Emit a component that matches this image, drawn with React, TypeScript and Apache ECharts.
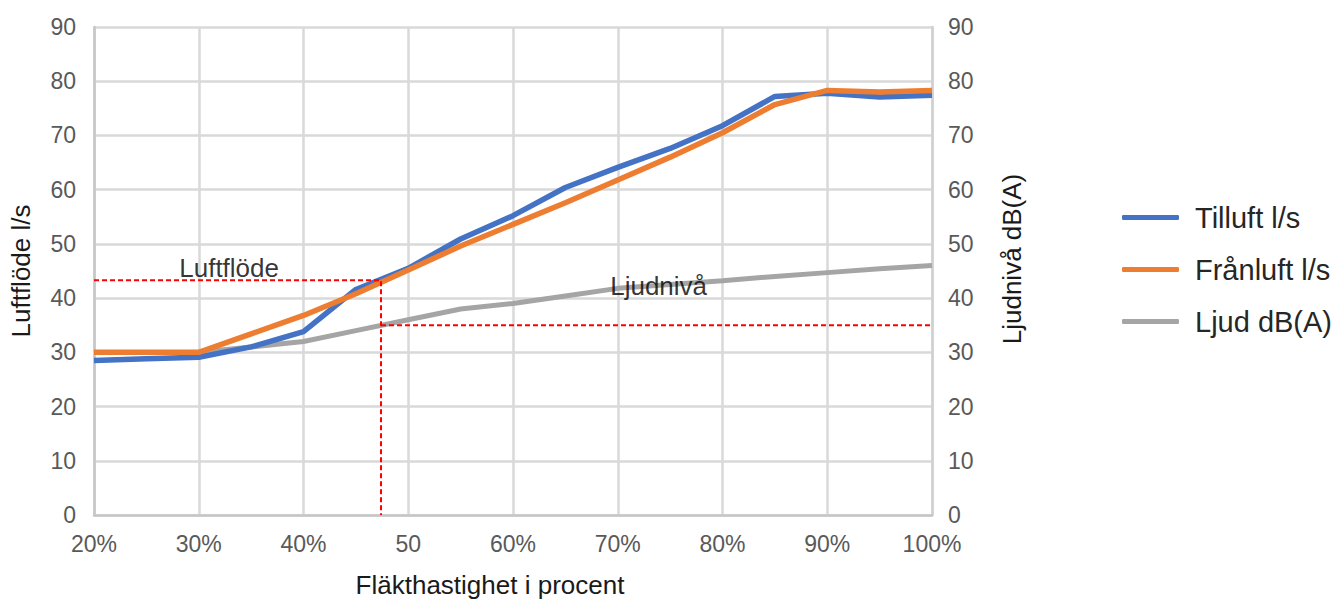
import React, { useEffect, useRef } from "react";
import * as echarts from "echarts";

const xValues = [20, 25, 30, 35, 40, 45, 50, 55, 60, 65, 70, 75, 80, 85, 90, 95, 100];
const tilluft = [28.5, 28.8, 29.1, 31.0, 33.8, 41.6, 45.5, 50.9, 55.2, 60.4, 64.1, 67.6, 71.8, 77.2, 77.8, 77.1, 77.4];
const franluft = [30.0, 30.0, 30.0, 33.4, 36.8, 40.8, 45.2, 49.6, 53.6, 57.6, 61.8, 66.0, 70.5, 75.7, 78.3, 78.0, 78.3];
const ljud = [null, null, 30.0, 31.0, 32.0, 34.0, 36.0, 38.0, 39.0, 40.4, 41.8, 42.5, 43.2, 44.0, 44.7, 45.4, 46.0];
const xTickValues = [20, 30, 40, 50, 60, 70, 80, 90, 100];
const xTickLabels = ["20%", "30%", "40%", "50", "60%", "70%", "80%", "90%", "100%"];
const seriesNames = ["Tilluft l/s", "Frånluft l/s", "Ljud dB(A)"];
const seriesColors = ["#4472C4", "#ED7D31", "#A5A5A5"];

// Reference guide (red dashed) lines
const luftGuide = [[20, 43.3], [47.4, 43.3], [47.4, 0]];
const ljudGuide = [[47.4, 35], [100, 35]];
const annotations = [
  { name: "Luftflöde", value: [32.9, 45.6] },
  { name: "Ljudnivå", value: [73.9, 42.2] },
];

const FONT = "'Liberation Sans', Arial, sans-serif";

export default function App() {
  const ref = useRef<HTMLDivElement>(null);
  useEffect(() => {
    if (!ref.current) return;
    const chart = echarts.init(ref.current, null, { renderer: "svg" });
    const pair = (arr: (number | null)[]) => xValues.map((x, i) => [x, arr[i] === null ? "-" : arr[i]]);
    const yAxisCommon = {
      type: "value",
      min: 0,
      max: 90,
      interval: 10,
      nameLocation: "middle",
      nameRotate: 90,
      axisTick: { show: false },
    };
    chart.setOption({
      animation: false,
      backgroundColor: "#ffffff",
      textStyle: { fontFamily: FONT },
      grid: { left: 90, right: 408, top: 27, bottom: 78, containLabel: false },
      legend: {
        data: seriesNames,
        orient: "vertical",
        left: 1117,
        top: 198,
        itemWidth: 57,
        itemHeight: 5,
        itemGap: 23,
        icon: "roundRect",
        textStyle: { fontFamily: FONT, fontSize: 29, color: "#262626", padding: [0, 0, 0, 11] },
      },
      xAxis: {
        type: "value",
        min: 20,
        max: 100,
        interval: 10,
        name: "Fläkthastighet i procent",
        nameLocation: "middle",
        nameGap: 57,
        nameTextStyle: { fontFamily: FONT, fontSize: 26, color: "#1a1a1a", padding: [0, 46, 0, 0] },
        axisLine: { show: true, lineStyle: { color: "#c6c6c6", width: 2.5 } },
        axisTick: { show: false },
        splitLine: { show: true, lineStyle: { color: "#d9d9d9", width: 2.5 } },
        axisLabel: {
          fontFamily: FONT,
          fontSize: 23,
          color: "#595959",
          margin: 17,
          formatter: (v: number) => {
            const i = xTickValues.indexOf(v);
            return i >= 0 ? xTickLabels[i] : "";
          },
        },
      },
      yAxis: [
        {
          ...yAxisCommon,
          name: "Luftflöde l/s",
          nameGap: 60,
          position: "left",
          nameTextStyle: { fontFamily: FONT, fontSize: 26, color: "#1a1a1a" },
          axisLabel: { fontFamily: FONT, fontSize: 23, color: "#595959", margin: 18 },
          axisLine: { show: true, lineStyle: { color: "#c6c6c6", width: 2.5 } },
          splitLine: { show: true, lineStyle: { color: "#d9d9d9", width: 2.5 } },
        },
        {
          ...yAxisCommon,
          name: "Ljudnivå dB(A)",
          nameGap: 67,
          position: "right",
          nameTextStyle: { fontFamily: FONT, fontSize: 26, color: "#1a1a1a", padding: [0, 0, 0, 24] },
          axisLabel: { fontFamily: FONT, fontSize: 23, color: "#595959", margin: 16 },
          axisLine: { show: true, lineStyle: { color: "#d0d0d0", width: 2.5 } },
          splitLine: { show: false },
        },
      ],
      series: [
        {
          name: "Ljud dB(A)",
          type: "line",
          yAxisIndex: 1,
          data: pair(ljud),
          symbol: "none",
          connectNulls: false,
          z: 3,
          lineStyle: { color: seriesColors[2], width: 5 },
          itemStyle: { color: seriesColors[2] },
        },
        {
          name: "Tilluft l/s",
          type: "line",
          yAxisIndex: 0,
          data: pair(tilluft),
          symbol: "none",
          z: 4,
          lineStyle: { color: seriesColors[0], width: 5.5 },
          itemStyle: { color: seriesColors[0] },
        },
        {
          name: "Frånluft l/s",
          type: "line",
          yAxisIndex: 0,
          data: pair(franluft),
          symbol: "none",
          z: 5,
          lineStyle: { color: seriesColors[1], width: 5.5 },
          itemStyle: { color: seriesColors[1] },
        },
        {
          name: "guideLuft",
          type: "line",
          yAxisIndex: 0,
          data: luftGuide,
          symbol: "none",
          silent: true,
          z: 6,
          lineStyle: { color: "#ff0000", width: 2, type: [5, 3] },
        },
        {
          name: "guideLjud",
          type: "line",
          yAxisIndex: 1,
          data: ljudGuide,
          symbol: "none",
          silent: true,
          z: 6,
          lineStyle: { color: "#ff0000", width: 2, type: [5, 3] },
        },
        {
          name: "annotations",
          type: "scatter",
          yAxisIndex: 0,
          symbolSize: 1,
          silent: true,
          z: 7,
          itemStyle: { color: "rgba(0,0,0,0)" },
          data: annotations.map((a) => ({ name: a.name, value: a.value })),
          label: {
            show: true,
            position: "inside",
            formatter: (p: any) => p.name,
            fontFamily: FONT,
            fontSize: 26,
            color: "#000000",
          },
        },
      ],
    });
    return () => chart.dispose();
  }, []);
  return (
    <div
      ref={ref}
      style={{ position: "absolute", left: 0, top: 0, width: 1340, height: 603, background: "#fff" }}
    />
  );
}
